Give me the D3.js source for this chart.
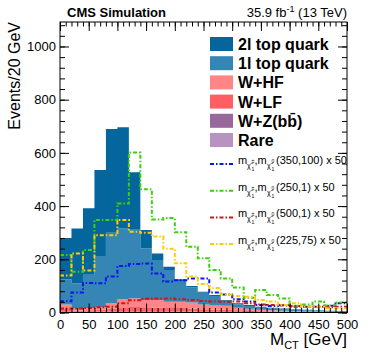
<!DOCTYPE html>
<html>
<head>
<meta charset="utf-8">
<script src="https://cdn.jsdelivr.net/npm/d3@7"></script>
<style>
  body { margin: 0; background: #fff; }
  text { font-family: "Liberation Sans", Arial, sans-serif; }
</style>
</head>
<body>
<div id="chart"></div>
<script>
// Bin edges (20 GeV bins from 0 to 500)
var binStart = [0,20,40,60,80,100,120,140,160,180,200,220,240,260,280,300,320,340,360,380,400,420,440,460,480];

// Background processes (stacked), events / 20 GeV
var rare = [2,2,2,3,3,4,4,4,4,3,3,3,2,2,2,2,1,1,1,1,1,1,1,0.5,0.5];
var wz   = [1,1,1,1,2,2,2,2,2,2,2,1,1,1,1,1,1,1,0.5,0.5,0.5,0.5,0.5,0.3,0.3];
var wlf  = [10,4,5,6,10,14,15,14,13,12,12,11,9,8,7,5,4,3,2,2,1.5,1,1,1,0.5];
var whf  = [17,8,9,10,20,30,33,27,28,23,23,23,18,17,15,10,8,5,4.5,3.5,2,1.5,1,1.2,0.7];
var oneL = [95,95,125,190,265,266,260,194,150,120,78,57,44,34,19,12,10,8,7,5,5,4,3,2,2];
var twoL = [155,206,250,326,390,380,213,69,25,12,7,5,4,4,3,5,4,4,3,3,2,2,2,2,2];

// Signal points (x 50)
var sigBlue   = [42,75,111,110,135,175,182,184,147,117,121,128,128,75,68,50,41,28,24,28,22,22,22,25,35];
var sigGreen  = [216,153,235,348,348,410,601,463,350,355,302,247,204,160,128,94,55,85,66,53,25,30,41,26,38];
var sigRed    = [15,15,17,20,22,35,46,52,53,53,50,47,43,41,40,41,35,30,28,26,24,22,22,20,22];
var sigYellow = [139,222,158,290,290,348,304,300,286,240,185,135,107,92,68,62,59,47,41,28,35,22,22,16,16];

var yTicks = [0,200,400,600,800,1000];
var xTicks = [0,50,100,150,200,250,300,350,400,450,500];

var W = 374, H = 359;
var pLeft = 60, pRight = 347, pTop = 22, pBottom = 312.5;

var svg = d3.select("#chart").append("svg")
  .attr("width", W)
  .attr("height", H);

var x = d3.scaleLinear().domain([0, 500]).range([pLeft, pRight]);
var y = d3.scaleLinear().domain([0, 1092]).range([pBottom, pTop]);

svg.append("clipPath").attr("id", "clip")
  .append("rect")
  .attr("x", pLeft).attr("y", pTop)
  .attr("width", pRight - pLeft).attr("height", pBottom - pTop);

var plot = svg.append("g").attr("clip-path", "url(#clip)");

// Build the stack (bottom to top)
var keys = ["rare", "wz", "wlf", "whf", "oneL", "twoL"];
var colors = {
  rare: "#b893c0",
  wz: "#98679c",
  wlf: "#ff5e62",
  whf: "#ff8587",
  oneL: "#3585b5",
  twoL: "#04669c"
};
var series = {rare: rare, wz: wz, wlf: wlf, whf: whf, oneL: oneL, twoL: twoL};

var rows = binStart.map(function(b, i) {
  var r = {x: b};
  keys.forEach(function(k) { r[k] = series[k][i]; });
  return r;
});
// extra point closes the last bin at 500
var last = {x: 500};
keys.forEach(function(k) { last[k] = series[k][series[k].length - 1]; });
rows.push(last);

var stacked = d3.stack().keys(keys)(rows);

var area = d3.area()
  .curve(d3.curveStepAfter)
  .x(function(d) { return x(d.data.x); })
  .y0(function(d) { return y(d[0]); })
  .y1(function(d) { return y(d[1]); });

plot.selectAll(".layer")
  .data(stacked)
  .enter().append("path")
  .attr("class", "layer")
  .attr("d", area)
  .style("fill", function(d) { return colors[d.key]; });

// Signal step lines
var signals = [
  {vals: sigBlue, color: "#0a14f0"},
  {vals: sigGreen, color: "#3ccf0c"},
  {vals: sigRed, color: "#dd1010"},
  {vals: sigYellow, color: "#ffcc00"}
];

var line = d3.line()
  .curve(d3.curveStepAfter)
  .x(function(d) { return x(d[0]); })
  .y(function(d) { return y(d[1]); });

signals.forEach(function(s) {
  var pts = binStart.map(function(b, i) { return [b, s.vals[i]]; });
  pts.push([500, s.vals[s.vals.length - 1]]);
  plot.append("path")
    .attr("d", line(pts))
    .style("fill", "none")
    .style("stroke", s.color)
    .style("stroke-width", 2)
    .style("stroke-dasharray", "4,2,1.5,2");
});

// Axes (ticks inside the frame, ROOT style)
var yMinor = d3.range(0, 1092, 40);
var xMinor = d3.range(0, 501, 10);

function noLabels() { return ""; }

svg.append("g")
  .attr("transform", "translate(" + pLeft + ",0)")
  .call(d3.axisLeft(y).tickValues(yTicks).tickSize(-9).tickPadding(4).tickFormat(d3.format("d")));
svg.append("g")
  .attr("transform", "translate(" + pLeft + ",0)")
  .call(d3.axisLeft(y).tickValues(yMinor).tickSize(-5).tickFormat(noLabels));
svg.append("g")
  .attr("transform", "translate(" + pRight + ",0)")
  .call(d3.axisRight(y).tickValues(yTicks).tickSize(-9).tickFormat(noLabels));
svg.append("g")
  .attr("transform", "translate(" + pRight + ",0)")
  .call(d3.axisRight(y).tickValues(yMinor).tickSize(-5).tickFormat(noLabels));

var axBottom = svg.append("g")
  .attr("transform", "translate(0," + pBottom + ")")
  .call(d3.axisBottom(x).tickValues(xTicks).tickSize(-9).tickPadding(5));
svg.append("g")
  .attr("transform", "translate(0," + pBottom + ")")
  .call(d3.axisBottom(x).tickValues(xMinor).tickSize(-4.5).tickFormat(noLabels));
svg.append("g")
  .attr("transform", "translate(0," + pTop + ")")
  .call(d3.axisTop(x).tickValues(xTicks).tickSize(-9).tickFormat(noLabels));
svg.append("g")
  .attr("transform", "translate(0," + pTop + ")")
  .call(d3.axisTop(x).tickValues(xMinor).tickSize(-4.5).tickFormat(noLabels));

svg.selectAll(".domain").remove();
svg.selectAll(".tick line").style("stroke", "#000").style("stroke-width", 1);
svg.selectAll(".tick text")
  .style("font-family", "'Liberation Sans', Arial, sans-serif")
  .style("font-size", "13px")
  .style("fill", "#000");
axBottom.selectAll(".tick text").attr("dy", "0.85em");

// Frame
svg.append("rect")
  .attr("x", pLeft).attr("y", pTop)
  .attr("width", pRight - pLeft).attr("height", pBottom - pTop)
  .style("fill", "none")
  .style("stroke", "#000")
  .style("stroke-width", 1);

// Axis titles
svg.append("text")
  .attr("transform", "translate(20," + pTop + ") rotate(-90)")
  .style("text-anchor", "end")
  .style("font-size", "16px")
  .text("Events/20 GeV");

var xt = svg.append("text")
  .attr("x", pRight)
  .attr("y", 345)
  .style("text-anchor", "end")
  .style("font-size", "17px");
xt.append("tspan").text("M");
xt.append("tspan").attr("dy", 4).style("font-size", "11px").text("CT");
xt.append("tspan").attr("dy", -4).text(" [GeV]");

// Header
svg.append("text")
  .attr("x", 67)
  .attr("y", 17)
  .style("font-size", "13px")
  .style("font-weight", "bold")
  .text("CMS Simulation");

var lumi = svg.append("text")
  .attr("x", pRight)
  .attr("y", 17)
  .style("text-anchor", "end")
  .style("font-size", "13px");
lumi.append("tspan").text("35.9 fb");
lumi.append("tspan").attr("dy", -5).style("font-size", "9px").text("-1");
lumi.append("tspan").attr("dy", 5).text(" (13 TeV)");

// Legend: backgrounds
var bgLegend = [
  {key: "twoL", label: "2l top quark"},
  {key: "oneL", label: "1l top quark"},
  {key: "whf", label: "W+HF"},
  {key: "wlf", label: "W+LF"},
  {key: "wz", label: "W+Z(bb\u0304)"},
  {key: "rare", label: "Rare"}
];

bgLegend.forEach(function(d, i) {
  var cy = 44 + i * 19.2;
  svg.append("rect")
    .attr("x", 210).attr("y", cy - 7)
    .attr("width", 23).attr("height", 14)
    .style("fill", colors[d.key]);
  svg.append("text")
    .attr("x", 238).attr("y", cy + 6)
    .style("font-size", "16px")
    .style("font-weight", "bold")
    .text(d.label);
});

// Legend: signals
var sigLabels = ["(350,100) x 50", "(250,1) x 50", "(500,1) x 50", "(225,75) x 50"];
signals.forEach(function(s, i) {
  var cy = 164 + i * 26.7;
  svg.append("line")
    .attr("x1", 210).attr("x2", 233)
    .attr("y1", cy).attr("y2", cy)
    .style("stroke", s.color)
    .style("stroke-width", 2)
    .style("stroke-dasharray", "4,2,1.5,2");
  var g = svg.append("g").style("font-size", "11px");
  // m with chargino subscript
  g.append("text").attr("x", 238).attr("y", cy).text("m");
  g.append("text").attr("x", 247).attr("y", cy + 4).style("font-size", "7px").text("\u03c7\u0303");
  g.append("text").attr("x", 251.5).attr("y", cy - 1).style("font-size", "5px").text("\u00b1");
  g.append("text").attr("x", 251.5).attr("y", cy + 7).style("font-size", "5px").text("1");
  // m with neutralino subscript
  g.append("text").attr("x", 254.5).attr("y", cy).text(",m");
  g.append("text").attr("x", 267).attr("y", cy + 4).style("font-size", "7px").text("\u03c7\u0303");
  g.append("text").attr("x", 271.5).attr("y", cy - 1).style("font-size", "5px").text("0");
  g.append("text").attr("x", 271.5).attr("y", cy + 7).style("font-size", "5px").text("1");
  g.append("text").attr("x", 276).attr("y", cy).text(sigLabels[i]);
});
</script>
</body>
</html>
